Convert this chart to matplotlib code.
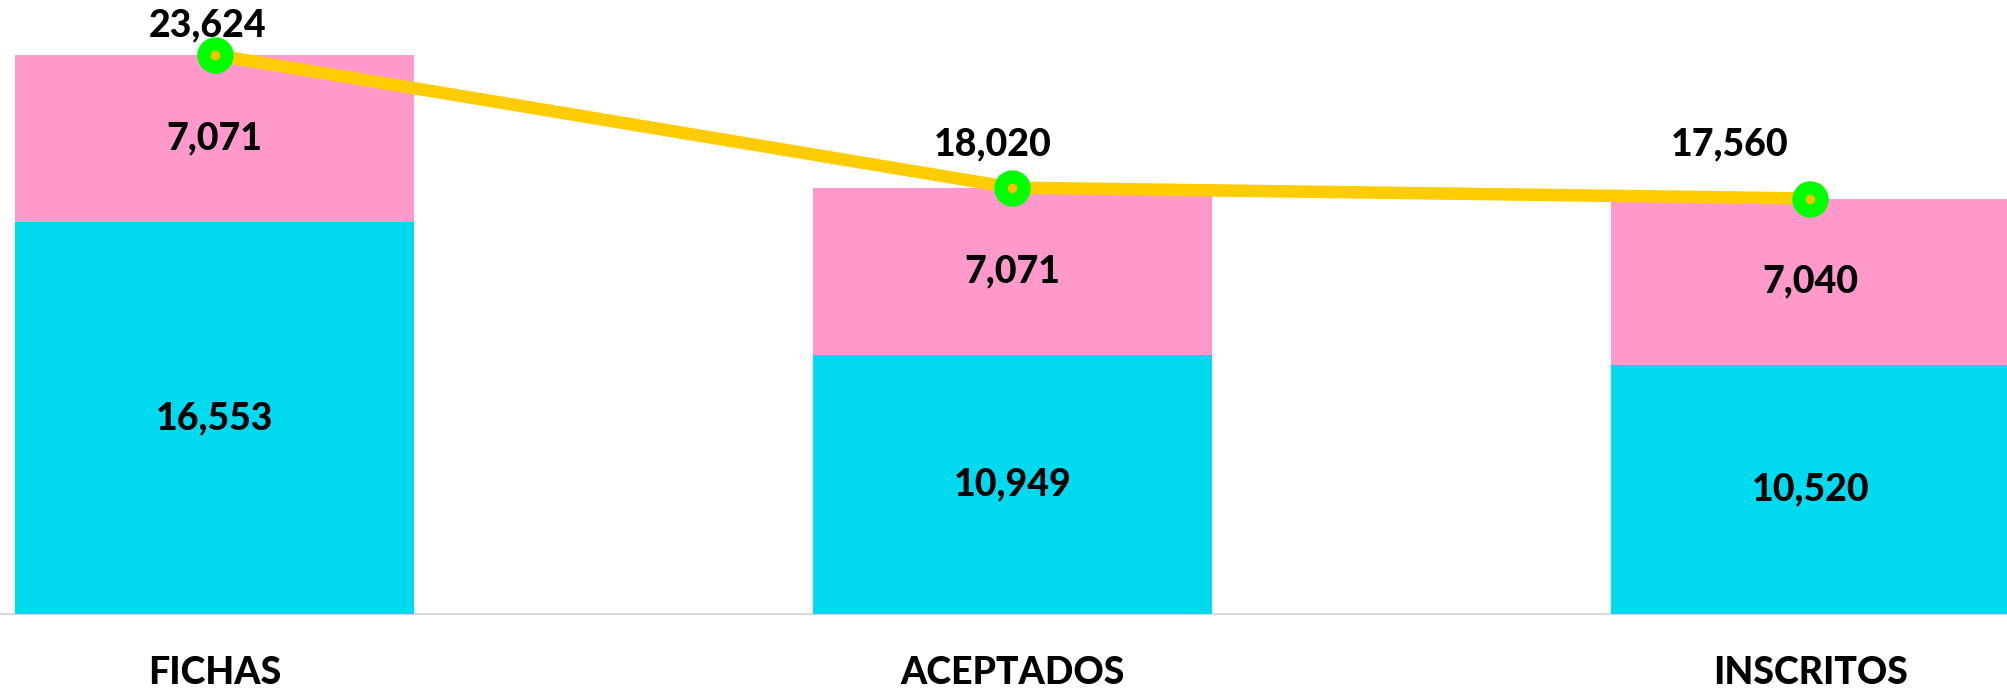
import matplotlib
matplotlib.use("Agg")
import matplotlib.pyplot as plt
import numpy as np

categories = ["FICHAS", "ACEPTADOS", "INSCRITOS"]
bottom_values = [16553, 10949, 10520]
top_values = [7071, 7071, 7040]
total_values = [23624, 18020, 17560]

plt.rcParams['font.family'] = ['Lato', 'DejaVu Sans']

fig = plt.figure(figsize=(20.08, 6.9), dpi=100)
ax = fig.add_axes([0, 76/690, 1, 591.5/690])

x = np.arange(len(categories))
cyan = "#00D9EE"
pink = "#FF99CC"
ax.bar(x, bottom_values, width=0.5, color=cyan, zorder=2)
ax.bar(x, top_values, width=0.5, bottom=bottom_values, color=pink, zorder=2)

ax.plot(x, total_values, color="#FFCC00", lw=9, zorder=3,
        marker="o", ms=16.5, mew=9.7, mec="#00FF00", mfc="#FFC000",
        solid_capstyle="butt")

fs = 27
fw = 900
for i in range(len(categories)):
    ax.text(x[i], bottom_values[i] / 2, f"{bottom_values[i]:,}", ha="center", va="center",
            fontsize=fs, fontweight=fw, color="black", zorder=4)
    ax.text(x[i], bottom_values[i] + top_values[i] / 2, f"{top_values[i]:,}", ha="center",
            va="center", fontsize=fs, fontweight=fw, color="black", zorder=4)

label_offsets = [(-7, 30), (-20, 43), (-81, 54)]
for i in range(len(categories)):
    dx, dy = label_offsets[i]
    ax.annotate(f"{total_values[i]:,}", (x[i], total_values[i]), xytext=(dx, dy),
                textcoords="offset pixels", ha="center", va="center",
                fontsize=fs, fontweight=fw, color="black", zorder=5,
                annotation_clip=False)

ax.set_xlim(-0.2688, 2.2475)
ax.set_ylim(0, 25000)
ax.set_xticks(x)
ax.set_xticklabels(categories, fontsize=fs, fontweight=fw)
ax.tick_params(axis="x", length=0, pad=30)
ax.set_yticks([])
for s in ["top", "right", "left"]:
    ax.spines[s].set_visible(False)
ax.spines["bottom"].set_color("#D9D9D9")
ax.spines["bottom"].set_linewidth(1.5)
ax.spines["bottom"].set_zorder(1)

fig.savefig("out.png", dpi=100, facecolor="white")
